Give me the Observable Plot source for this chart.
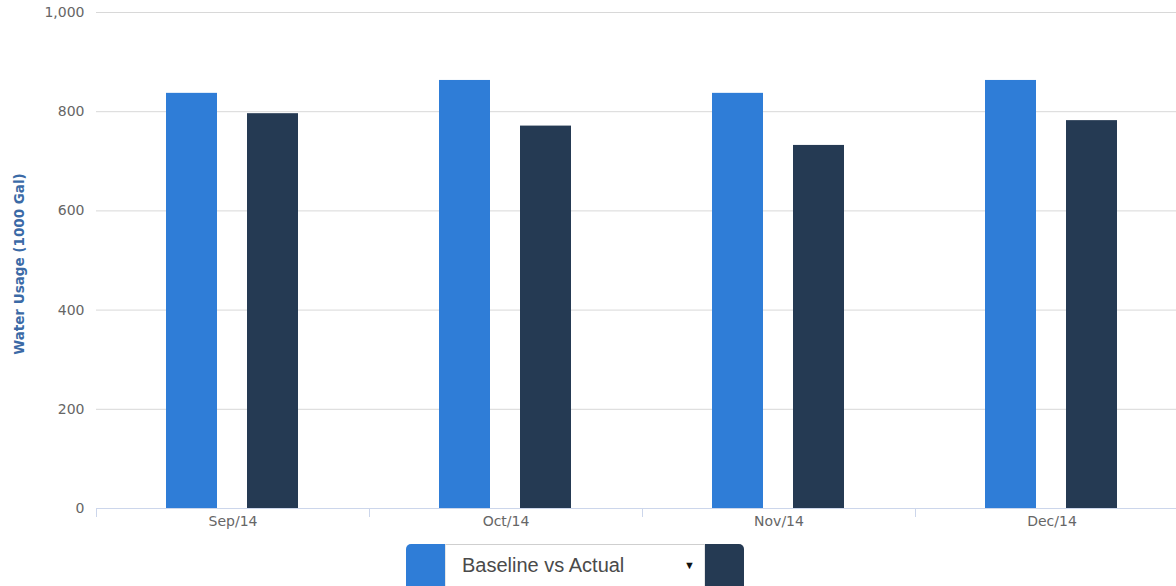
<!DOCTYPE html>
<html>
<head>
<meta charset="utf-8">
<script src="https://cdn.jsdelivr.net/npm/d3@7"></script>
<script src="https://cdn.jsdelivr.net/npm/@observablehq/plot@0.6"></script>
<style>
  html, body { margin: 0; padding: 0; background: #fff; overflow: hidden; }
  #wrap { position: relative; width: 1176px; height: 586px; overflow: hidden; }
  #chart svg { display: block; max-width: none !important; }
  #ylabel {
    position: absolute; left: 19px; top: 264px;
    transform: translate(-50%, -50%) rotate(-90deg);
    white-space: nowrap;
    font: bold 13.5px "DejaVu Sans", sans-serif;
    color: #3b6aa6;
  }
  #legend {
    position: absolute; left: 406px; top: 544px;
    display: flex; height: 48px;
    font-family: "Liberation Sans", Arial, sans-serif;
  }
  #legend .sw { width: 39px; height: 48px; }
  #legend .sw.a { background: #2f7dd7; border-radius: 5px 0 0 0; }
  #legend .sw.b { background: #253a53; border-radius: 0 5px 0 0; }
  #legend .box {
    width: 260px; height: 47px; box-sizing: border-box;
    border-top: 1px solid #cfcfcf; border-left: 1px solid #e6e6e6; border-right: 1px solid #e6e6e6;
    position: relative; background: #fff;
  }
  #legend .box .t { position: absolute; left: 16px; top: 9px; font-size: 20px; color: #4a4a4a; }
  #legend .box .arr { position: absolute; left: 238px; top: 14px; font-size: 11px; color: #111; }
</style>
</head>
<body>
<div id="wrap">
  <div id="chart"></div>
  <div id="ylabel">Water Usage (1000 Gal)</div>
  <div id="legend">
    <div class="sw a"></div>
    <div class="box"><span class="t">Baseline vs Actual</span><span class="arr">&#9660;</span></div>
    <div class="sw b"></div>
  </div>
</div>
<script>
// Monthly water usage, baseline against actual (thousands of gallons)
const months = ["Sep/14", "Oct/14", "Nov/14", "Dec/14"];
const series = ["Baseline", "Actual"];
const baseline = [837, 863, 837, 863];
const actual = [796, 771, 732, 782];
const yTicks = [0, 200, 400, 600, 800, 1000];
const colors = ["#2f7dd7", "#253a53"];

const rows = months.flatMap((m, i) => [
  {month: m, series: "Baseline", value: baseline[i]},
  {month: m, series: "Actual", value: actual[i]}
]);

// the plot runs a little past the right edge of the page, which clips it
const width = 1188, height = 540, marginTop = 12, marginBottom = 32;
const innerH = height - marginTop - marginBottom;

const chart = Plot.plot({
  width, height,
  marginLeft: 95, marginRight: 0, marginTop, marginBottom,
  style: {fontFamily: "'DejaVu Sans', sans-serif", fontSize: "14px", color: "#666", background: "#fff", overflow: "visible"},
  fx: {domain: months, padding: 0, axis: "bottom", label: null, tickSize: 0, tickPadding: 8},
  x: {domain: series, axis: null, paddingInner: 0.366, paddingOuter: 0.854},
  y: {domain: [0, 1000], ticks: yTicks, tickFormat: d3.format(","), tickSize: 0, tickPadding: 12, label: null},
  color: {domain: series, range: colors},
  marks: [
    Plot.ruleY(yTicks.filter(d => d > 0), {stroke: "#d8d8d8", strokeWidth: 1}),
    Plot.barY(rows, {fx: "month", x: "series", y: "value", fill: "series"}),
    Plot.ruleY([0], {stroke: "#ccd6eb", strokeWidth: 1}),
    // category separators below the axis line
    Plot.frame({anchor: "left", stroke: "#ccd6eb", insetTop: innerH, insetBottom: -8})
  ]
});
document.getElementById("chart").appendChild(chart);
</script>
</body>
</html>
